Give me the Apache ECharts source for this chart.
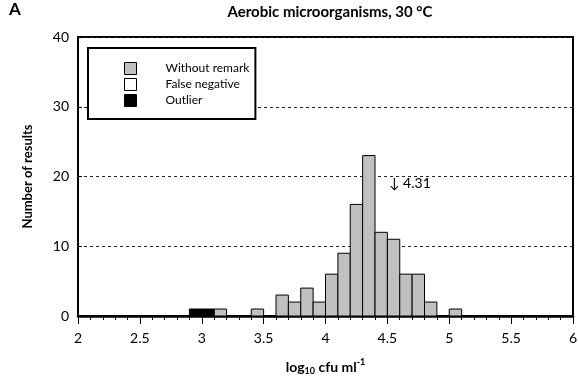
<!DOCTYPE html>
<html>
<head>
<meta charset="utf-8">
<script src="https://cdn.jsdelivr.net/npm/echarts@6/dist/echarts.min.js"></script>
<style>html,body{margin:0;padding:0;background:#fff}#c{width:578px;height:378px}</style>
</head>
<body>
<div id="c"></div>
<script>
// ---- data ----
const binWidth = 0.1;
const withoutRemarkBins = [3.1, 3.4, 3.6, 3.7, 3.8, 3.9, 4.0, 4.1, 4.2, 4.3, 4.4, 4.5, 4.6, 4.7, 4.8, 5.0];
const withoutRemarkCounts = [1, 1, 3, 2, 4, 2, 6, 9, 16, 23, 12, 11, 6, 6, 2, 1];
const falseNegativeBins = [];
const falseNegativeCounts = [];
const outlierBins = [2.9, 3.0];
const outlierCounts = [1, 1];
const assignedValue = 4.31;
const xTicks = [2, 2.5, 3, 3.5, 4, 4.5, 5, 5.5, 6];
const yTicks = [0, 10, 20, 30, 40];

const FONT = 'Lato';

function toData(bins, counts) {
  return bins.map((b, i) => [b, +(b + binWidth).toFixed(2), counts[i]]);
}
function barRender(fill) {
  return function (params, api) {
    const p0 = api.coord([api.value(0), 0]);
    const p1 = api.coord([api.value(1), api.value(2)]);
    return {
      type: 'rect',
      shape: { x: p0[0], y: p1[1], width: p1[0] - p0[0], height: p0[1] - p1[1] },
      style: { fill: fill, stroke: '#000', lineWidth: 1 }
    };
  };
}

const chart = echarts.init(document.getElementById('c'), null, { renderer: 'canvas' });
chart.setOption({
  animation: false,
  textStyle: { fontFamily: FONT, color: '#000' },
  title: {
    text: 'Aerobic microorganisms, 30 °C',
    left: 325, top: 0, textAlign: 'center',
    textStyle: { fontFamily: FONT, fontSize: 15, fontWeight: 'bold', color: '#000' }
  },
  grid: {
    left: 78, right: 5, top: 37, bottom: 62,
    outerBoundsMode: 'none', containLabel: false,
    show: true, borderColor: '#000', borderWidth: 2, backgroundColor: 'transparent'
  },
  legend: {
    orient: 'vertical', left: 88, top: 48,
    padding: [14, 6, 12, 36], itemGap: 3,
    itemWidth: 12, itemHeight: 12,
    backgroundColor: '#fff', borderColor: '#000', borderWidth: 2,
    textStyle: { fontFamily: FONT, fontSize: 12, color: '#000', padding: [0, 0, 0, 24] },
    data: [
      { name: 'Without remark', icon: 'rect', itemStyle: { color: '#c0c0c0', borderColor: '#000', borderWidth: 1 } },
      { name: 'False negative', icon: 'rect', itemStyle: { color: '#fff', borderColor: '#000', borderWidth: 1 } },
      { name: 'Outlier', icon: 'rect', itemStyle: { color: '#000', borderColor: '#000', borderWidth: 1 } }
    ],
    z: 10
  },
  xAxis: {
    type: 'value', min: xTicks[0], max: xTicks[xTicks.length - 1], interval: 0.5,
    axisLine: { onZero: false, lineStyle: { color: '#000', width: 2.5 } },
    axisTick: { show: true, length: 8, lineStyle: { color: '#000', width: 1 } },
    minorTick: { show: true, splitNumber: 5, length: 4, lineStyle: { color: '#000', width: 1 } },
    splitLine: { show: false },
    axisLabel: { fontFamily: FONT, fontSize: 14, color: '#000', margin: 15 },
    name: '{b|log}{s|10}{b| cfu ml}{p|-1}',
    nameLocation: 'middle', nameGap: 42,
    nameTextStyle: {
      rich: {
        b: { fontFamily: FONT, fontSize: 14, fontWeight: 'bold', color: '#000' },
        s: { fontFamily: FONT, fontSize: 9, fontWeight: 'bold', color: '#000', verticalAlign: 'bottom', padding: [9, 0, 0, 0] },
        p: { fontFamily: FONT, fontSize: 9, fontWeight: 'bold', color: '#000', verticalAlign: 'top', padding: [0, 0, 8, 0] }
      }
    }
  },
  yAxis: {
    type: 'value', min: yTicks[0], max: yTicks[yTicks.length - 1], interval: 10,
    axisLine: { show: true, lineStyle: { color: '#000', width: 2 } },
    axisTick: { show: true, inside: true, length: 4, lineStyle: { color: '#000', width: 1 } },
    splitLine: { show: true, lineStyle: { color: '#222', width: 1, type: [3, 3] } },
    axisLabel: { fontFamily: FONT, fontSize: 14, color: '#000', margin: 9 },
    name: 'Number of results', nameLocation: 'middle', nameGap: 44,
    nameTextStyle: { fontFamily: FONT, fontSize: 13, fontWeight: 'bold', color: '#000' }
  },
  series: [
    { name: 'Without remark', type: 'custom', renderItem: barRender('#c0c0c0'),
      itemStyle: { color: '#c0c0c0', borderColor: '#000' },
      encode: { x: [0, 1], y: 2 }, data: toData(withoutRemarkBins, withoutRemarkCounts), z: 3 },
    { name: 'False negative', type: 'custom', renderItem: barRender('#fff'),
      itemStyle: { color: '#fff', borderColor: '#000' },
      encode: { x: [0, 1], y: 2 }, data: toData(falseNegativeBins, falseNegativeCounts), z: 3 },
    { name: 'Outlier', type: 'custom', renderItem: barRender('#000'),
      itemStyle: { color: '#000', borderColor: '#000' },
      encode: { x: [0, 1], y: 2 }, data: toData(outlierBins, outlierCounts), z: 3 }
  ],
  graphic: [
    { type: 'text', left: 9, top: 1, style: { text: 'A', fontFamily: FONT, fontSize: 17, fontWeight: 'bold', fill: '#000' } },
    { type: 'text', left: 389, top: 176, style: { text: '\u2193 ' + assignedValue.toFixed(2), fontFamily: FONT, fontSize: 14, fill: '#000' } }
  ]
});
</script>
</body>
</html>
